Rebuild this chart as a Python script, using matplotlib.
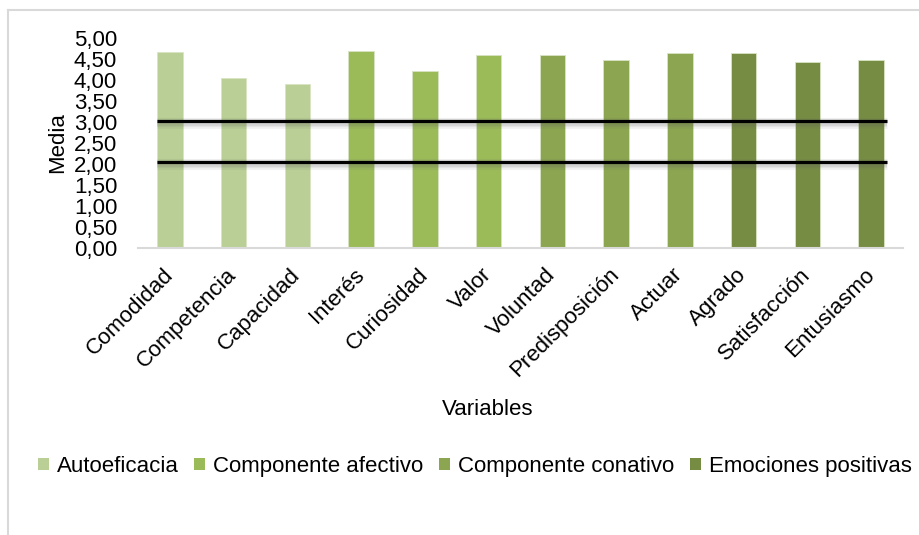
import matplotlib
matplotlib.use('Agg')
import numpy as np
from matplotlib import pyplot as plt
from matplotlib.patches import Patch
from matplotlib.lines import Line2D
import matplotlib.patheffects as pe

plt.rcParams['font.family'] = ['Liberation Sans', 'DejaVu Sans']

variables = ['Comodidad', 'Competencia', 'Capacidad', 'Interés', 'Curiosidad', 'Valor',
             'Voluntad', 'Predisposición', 'Actuar', 'Agrado', 'Satisfacción', 'Entusiasmo']
medias = [4.67, 4.04, 3.90, 4.70, 4.21, 4.60, 4.60, 4.48, 4.65, 4.65, 4.42, 4.48]
grupo = [0, 0, 0, 1, 1, 1, 2, 2, 2, 3, 3, 3]
grupos = ['Autoeficacia', 'Componente afectivo', 'Componente conativo', 'Emociones positivas']
colores = ['#BACF96', '#9BBB59', '#8BA550', '#778C43']
umbrales = [3.02, 2.05]
yticks = [0, 0.5, 1, 1.5, 2, 2.5, 3, 3.5, 4, 4.5, 5]

fs = 16
fig = plt.figure(figsize=(9.2, 5.35), dpi=100)
ax = fig.add_axes([0.15, 0.5364, 0.8315, 0.3926])

x = np.arange(len(variables))
ax.bar(x, medias, width=0.4, color=[colores[g] for g in grupo],
       edgecolor='#D8E4C4', linewidth=0.6, zorder=2)

# lineas de referencia con sombra difusa
sombra = [pe.SimpleLineShadow(offset=(0, -1.5), shadow_color='#606060', alpha=a, linewidth=w)
          for a, w in [(0.08, 8), (0.10, 6), (0.12, 4)]]
for u in umbrales:
    ax.plot([-0.2, 11.25], [u, u], color='black', lw=2.3, solid_capstyle='butt', zorder=3,
            path_effects=sombra + [pe.Normal()])

ax.set_xlim(-0.5, 11.5)
ax.set_ylim(0, 5)
ax.set_yticks(yticks)
ax.set_yticklabels([('%.2f' % t).replace('.', ',') for t in yticks], fontsize=fs)
ax.set_xticks(x)
ax.set_xticklabels(variables, rotation=45, ha='right', va='center',
                   rotation_mode='anchor', fontsize=fs)
ax.tick_params(axis='y', length=0, pad=15)
ax.tick_params(axis='x', length=0, pad=17)

for s in ['top', 'right', 'left']:
    ax.spines[s].set_visible(False)
ax.spines['bottom'].set_color('#D9D9D9')
ax.spines['bottom'].set_linewidth(1.5)

ax.set_ylabel('Media', fontsize=fs, labelpad=4)
fig.text(0.530, 0.2355, 'Variables', fontsize=fs, ha='center', va='center')

handles = [Patch(facecolor=c, edgecolor='none') for c in colores]
fig.legend(handles, grupos, loc='center', bbox_to_anchor=(0.516, 0.128), ncol=4,
           frameon=False, fontsize=fs, handlelength=0.5, handleheight=0.5,
           handletextpad=0.35, columnspacing=0.7, borderpad=0)

# borde del grafico
fig.add_artist(Line2D([8 / 920, 8 / 920], [0, 1 - 10 / 535], color='#D9D9D9', lw=1.5))
fig.add_artist(Line2D([8 / 920, 1], [1 - 10 / 535, 1 - 10 / 535], color='#D9D9D9', lw=1.5))

fig.savefig('out.png', dpi=100)
